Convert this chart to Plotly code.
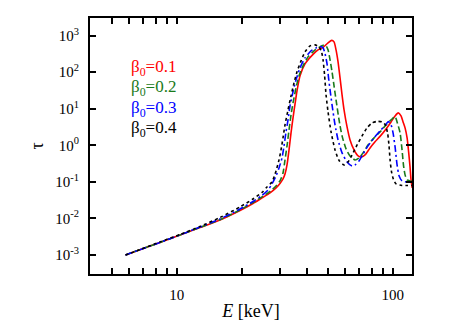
import plotly.graph_objects as go

# ── data (E in keV, tau dimensionless) ───────────────────────────────────────
E_01 = [5.8, 6.76, 8.37, 10.36, 12.82, 15.87, 19.64, 22.55, 24.83, 27.04, 28.83, 30.07,
        31.05, 31.72, 32.41, 33.11, 33.82, 34.55, 35.30, 36.05, 37.23, 39.26, 42.76, 45.11,
        47.58, 50.18, 52.20, 53.49, 54.64, 55.82, 57.02, 58.25, 59.51, 61.44, 63.43, 66.2,
        69.1, 71.9, 74.4, 78.5, 82.8, 87.3, 93.1, 98.2, 102.5, 106.1, 109.2, 111.6, 114.0,
        116.5, 118.4, 120.2, 121.5, 123]
TAU_01 = [1.0e-3, 1.40e-3, 2.2e-3, 3.52e-3, 5.65e-3, 9.08e-3, 1.65e-2, 2.56e-2, 3.63e-2,
          4.97e-2, 6.81e-2, 9.04e-2, 0.120, 0.164, 0.290, 0.746, 2.18, 5.60, 13.5, 30.7, 78.9,
          168, 306, 406, 475, 631, 739, 673, 406, 191, 69.7, 23.9, 9.27, 3.18, 1.40, 0.746,
          0.512, 0.480, 0.545, 0.847, 1.24, 1.75, 2.80, 4.35, 6.35, 7.67, 6.35, 4.35, 2.99,
          1.59, 0.657, 0.256, 0.113, 0.068]

E_02 = [5.8, 6.76, 8.37, 10.36, 12.82, 15.87, 19.64, 22.55, 24.83, 27.04, 28.83, 30.07,
        31.05, 31.72, 32.41, 33.11, 33.82, 34.55, 35.67, 36.83, 38.44, 40.54, 43.22, 45.59,
        47.73, 49.12, 50.18, 51.26, 52.36, 53.49, 54.64, 56.42, 58.25, 60.79, 63.43, 66.9,
        69.8, 72.9, 76.8, 81.9, 87.3, 93.1, 98.2, 102.5, 104.7, 108.1, 110.4, 112.2, 114.0,
        116.5, 120.2, 123]
TAU_02 = [1.0e-3, 1.40e-3, 2.2e-3, 3.52e-3, 5.65e-3, 9.25e-3, 1.70e-2, 2.73e-2, 3.87e-2,
          5.46e-2, 7.73e-2, 0.106, 0.175, 0.397, 0.96, 2.63, 6.76, 14.4, 37.1, 78.9, 148,
          261, 381, 475, 540, 523, 406, 216, 102, 42.1, 17.4, 4.94, 1.80, 0.794, 0.511,
          0.397, 0.451, 0.618, 1.02, 1.59, 2.32, 3.61, 4.94, 6.08, 4.35, 2.18, 0.746, 0.272,
          0.155, 0.113, 0.106, 0.103]

E_03 = [5.8, 6.76, 8.37, 10.36, 12.82, 15.87, 19.64, 22.55, 24.83, 26.47, 27.62, 28.83,
        29.76, 30.73, 31.39, 32.07, 32.76, 33.46, 34.55, 35.67, 37.23, 39.26, 41.87, 44.16,
        46.08, 47.58, 48.61, 49.65, 50.45, 51.26, 52.36, 54.06, 55.82, 58.25, 61.44, 64.8,
        66.9, 69.8, 72.9, 76.8, 81.9, 87.3, 92.1, 95.4, 98.2, 100.3, 102.5, 104.7, 107.0,
        110.4, 115.3, 123]
TAU_03 = [1.0e-3, 1.40e-3, 2.2e-3, 3.52e-3, 5.83e-3, 9.66e-3, 1.81e-2, 2.91e-2, 4.25e-2,
          0.060, 0.0877, 0.145, 0.240, 0.451, 0.96, 2.32, 4.94, 11.9, 28.8, 61.4, 131, 245,
          381, 460, 500, 460, 316, 168, 69.7, 32.7, 12.7, 3.61, 1.40, 0.618, 0.351, 0.272,
          0.290, 0.373, 0.580, 0.96, 1.59, 2.47, 3.49, 4.44, 3.61, 2.18, 0.90, 0.290, 0.145,
          0.106, 0.0994, 0.0994]

E_04 = [5.8, 6.76, 8.37, 10.36, 12.82, 15.87, 19.64, 22.55, 24.83, 26.18, 27.62, 28.83,
        29.76, 30.40, 31.05, 31.72, 32.76, 33.82, 34.92, 36.05, 37.63, 39.26, 41.41, 43.68,
        45.59, 46.82, 47.58, 48.35, 49.12, 50.18, 51.81, 54.06, 56.42, 59.51, 62.1, 64.8,
        68.4, 72.1, 76.0, 80.2, 84.6, 89.2, 92.1, 94.6, 96.1, 97.2, 98.7, 100.9, 103.6,
        110.4, 123]
TAU_04 = [1.0e-3, 1.40e-3, 2.27e-3, 3.64e-3, 6.0e-3, 1.06e-2, 2.06e-2, 3.40e-2, 5.13e-2,
          0.0725, 0.0994, 0.199, 0.397, 0.746, 1.59, 3.61, 9.27, 22.4, 50.8, 102, 203, 358,
          523, 556, 491, 358, 216, 84.1, 23.9, 8.17, 2.32, 0.746, 0.385, 0.290, 0.351,
          0.545, 1.02, 1.80, 2.99, 4.09, 4.50, 4.35, 3.72, 2.18, 0.96, 0.397, 0.187, 0.113,
          0.0877, 0.0798, 0.0798]

LABELS = ["β<sub>0</sub>=0.1", "β<sub>0</sub>=0.2", "β<sub>0</sub>=0.3", "β<sub>0</sub>=0.4"]
COLORS = ["#ff0000", "#1a7a1a", "#0000ff", "#000000"]
DASHES = ["solid", "6px,3px", "7px,3px,2px,3px", "dot"]

Y_TICKS = [1e-3, 1e-2, 1e-1, 1, 10, 100, 1000]
Y_TEXT = ["10<sup>-3</sup>", "10<sup>-2</sup>", "10<sup>-1</sup>", "10<sup>0</sup>",
          "10<sup>1</sup>", "10<sup>2</sup>", "10<sup>3</sup>"]
X_MINOR = [5, 6, 7, 8, 9, 20, 30, 40, 50, 60, 70, 80, 90]

FONT = '"Liberation Serif", "Times New Roman", serif'

fig = go.Figure()
for e, t, c, d in zip([E_01, E_02, E_03, E_04], [TAU_01, TAU_02, TAU_03, TAU_04], COLORS, DASHES):
    fig.add_trace(go.Scatter(x=e, y=t, mode="lines",
                             line=dict(color=c, width=1.6, dash=d, shape="spline", smoothing=0.6),
                             showlegend=False))

# beta_0 labels, stacked in the upper left
for i, (lab, c) in enumerate(zip(LABELS, COLORS)):
    fig.add_annotation(text=lab, x=0.12, y=0.806 - i * 0.0805, xref="paper", yref="paper",
                       xanchor="left", yanchor="middle", showarrow=False,
                       font=dict(color=c, size=17, family=FONT))

axis_common = dict(showline=True, linecolor="black", linewidth=2, mirror="ticks",
                   ticks="inside", tickcolor="black", tickwidth=1.5, showgrid=False,
                   zeroline=False, automargin=False,
                   tickfont=dict(size=15, color="black", family=FONT))

fig.update_xaxes(type="log", range=[0.599, 2.089], tickvals=[10, 100], ticktext=["10", "100"],
                 ticklen=6, ticklabelstandoff=6,
                 minor=dict(tickvals=X_MINOR, ticks="inside", ticklen=6, tickcolor="black",
                            tickwidth=1.5, showgrid=False),
                 title=dict(text="<i>E</i> [keV]", font=dict(size=18, family=FONT, color="black"),
                            standoff=2),
                 **axis_common)
fig.update_yaxes(type="log", range=[-3.52, 3.48], tickvals=Y_TICKS, ticktext=Y_TEXT,
                 ticklen=6, ticklabelstandoff=6,
                 title=dict(text="τ", font=dict(size=18, family=FONT, color="black"), standoff=7),
                 **axis_common)

# the page body adds an 8px offset, so the margins are shifted to compensate
fig.update_layout(width=463, height=324, paper_bgcolor="white", plot_bgcolor="white",
                  margin=dict(l=82, r=59, t=10, b=58), font=dict(family=FONT, color="black"))

fig.write_html("out.html")
